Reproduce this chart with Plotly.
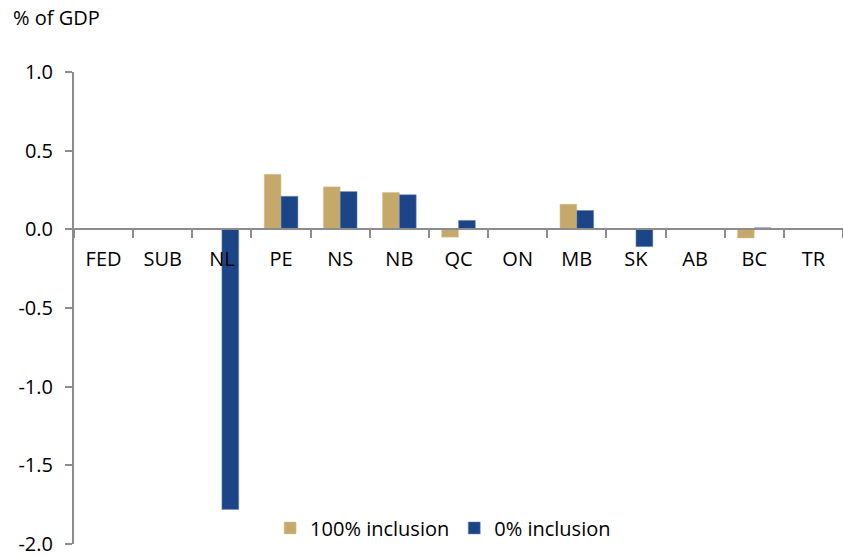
import plotly.graph_objects as go

regions = ["FED", "SUB", "NL", "PE", "NS", "NB", "QC", "ON", "MB", "SK", "AB", "BC", "TR"]
full_inclusion = [0, 0, 0, 0.35, 0.27, 0.235, -0.05, 0, 0.16, 0, 0, -0.055, 0]
zero_inclusion = [0, 0, -1.78, 0.21, 0.24, 0.22, 0.057, 0, 0.12, -0.11, 0, 0.01, 0]
y_ticks = [1.0, 0.5, 0.0, -0.5, -1.0, -1.5, -2.0]
y_tick_labels = ["1.0", "0.5", "0.0", "-0.5", "-1.0", "-1.5", "-2.0"]

font_family = "Open Sans"

fig = go.Figure()
fig.add_trace(go.Bar(
    x=regions, y=full_inclusion, name="100% inclusion",
    marker=dict(color="#C4A96A", line=dict(color="#D9C89E", width=0.5)),
))
fig.add_trace(go.Bar(
    x=regions, y=zero_inclusion, name="0% inclusion",
    marker=dict(color="#1C4587", line=dict(color="#6F8DBD", width=0.5)),
))

fig.update_layout(
    width=843, height=557,
    margin=dict(l=74, r=0, t=72, b=9),
    plot_bgcolor="white", paper_bgcolor="white",
    barmode="group", bargap=0.43, bargroupgap=0,
    font=dict(family=font_family, size=20, color="black"),
    legend=dict(
        orientation="h", x=0.48, xanchor="center", y=0.034, yanchor="middle",
        font=dict(size=20), bgcolor="rgba(0,0,0,0)", itemwidth=30,
    ),
    annotations=[dict(
        text="% of GDP", xref="paper", yref="paper", x=-74 / 769, y=1 + 55 / 476,
        xanchor="left", yanchor="middle", showarrow=False, xshift=11,
        font=dict(size=20),
    )],
)

fig.update_yaxes(
    range=[-2, 1], tickvals=y_ticks, ticktext=y_tick_labels,
    showgrid=False, zeroline=False,
    showline=True, linecolor="#8C8C8C", linewidth=2,
    ticks="outside", ticklen=7, tickcolor="#8C8C8C", tickwidth=2,
    ticklabelstandoff=8, ticklabeloverflow="allow",
)
fig.update_xaxes(
    type="category", anchor="free", position=2 / 3,
    showgrid=False, zeroline=False,
    showline=True, linecolor="#8C8C8C", linewidth=2,
    tickson="boundaries", ticks="outside", ticklen=8,
    tickcolor="#8C8C8C", tickwidth=2,
    ticklabelstandoff=12,
)

fig.write_html(
    "out.html",
    config={"displayModeBar": False},
    post_script="document.body.style.margin='0';",
)
